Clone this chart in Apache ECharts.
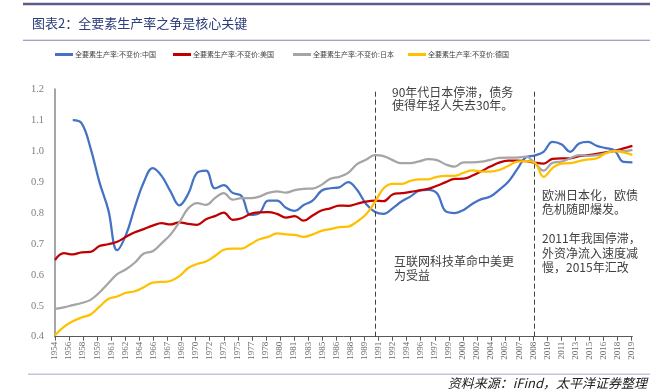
<!DOCTYPE html>
<html>
<head>
<meta charset="utf-8">
<script src="https://cdn.jsdelivr.net/npm/echarts@6/dist/echarts.min.js"></script>
<style>
html,body{margin:0;padding:0;background:#fff;}
#chart{width:650px;height:390px;}
</style>
</head>
<body>
<div id="chart"></div>
<script>
const years = [1954,1955,1956,1957,1958,1959,1960,1961,1962,1963,1964,1965,1966,1967,1968,1969,1970,1971,1972,1973,1974,1975,1976,1977,1978,1979,1980,1981,1982,1983,1984,1985,1986,1987,1988,1989,1990,1991,1992,1993,1994,1995,1996,1997,1998,1999,2000,2001,2002,2003,2004,2005,2006,2007,2008,2009,2010,2011,2012,2013,2014,2015,2016,2017,2018,2019];

const seriesNames = ['全要素生产率:不变价:中国','全要素生产率:不变价:美国','全要素生产率:不变价:日本','全要素生产率:不变价:德国'];

const china = [null,null,1.10,1.09,1.01,0.90,0.81,0.68,0.73,0.82,
  0.90,0.945,0.92,0.87,0.825,0.862,0.93,0.937,0.88,0.89,
  0.865,0.855,0.794,0.80,0.84,0.84,0.817,0.807,0.826,0.84,
  0.872,0.88,0.883,0.90,0.875,0.83,0.804,0.797,0.815,0.837,
  0.853,0.872,0.875,0.864,0.805,0.80,0.81,0.83,0.845,0.853,
  0.875,0.90,0.94,0.98,0.986,0.998,1.03,1.022,0.998,1.025,
  1.03,1.017,1.01,1.002,0.965,0.964];

const usa = [0.648,0.670,0.666,0.673,0.674,0.693,0.699,0.707,0.723,0.738,
  0.748,0.759,0.767,0.763,0.770,0.765,0.762,0.780,0.790,0.801,
  0.778,0.783,0.797,0.802,0.803,0.797,0.785,0.790,0.775,0.792,
  0.808,0.815,0.824,0.823,0.830,0.837,0.840,0.838,0.860,0.864,
  0.868,0.873,0.878,0.888,0.900,0.910,0.911,0.921,0.935,0.950,
  0.963,0.969,0.969,0.968,0.963,0.960,0.975,0.977,0.977,0.984,
  0.987,0.991,0.996,1.001,1.009,1.017];

const japan = [0.490,0.495,0.502,0.509,0.519,0.543,0.573,0.602,0.618,0.640,
  0.669,0.676,0.702,0.730,0.770,0.815,0.832,0.826,0.848,0.864,
  0.843,0.848,0.848,0.853,0.865,0.870,0.866,0.874,0.878,0.879,
  0.891,0.911,0.917,0.930,0.958,0.972,0.987,0.984,0.971,0.961,
  0.961,0.967,0.974,0.971,0.957,0.950,0.964,0.964,0.966,0.972,
  0.978,0.979,0.979,0.982,0.962,0.937,0.962,0.966,0.977,0.987,
  0.985,0.987,0.994,1.001,1.000,1.004];

const germany = [0.405,0.432,0.450,0.462,0.472,0.497,0.522,0.530,0.542,0.547,
  0.560,0.575,0.577,0.580,0.596,0.622,0.635,0.643,0.661,0.681,
  0.685,0.685,0.699,0.715,0.723,0.734,0.731,0.729,0.723,0.731,
  0.742,0.748,0.754,0.756,0.772,0.795,0.835,0.880,0.894,0.894,
  0.904,0.909,0.909,0.917,0.920,0.920,0.930,0.938,0.934,0.934,
  0.939,0.952,0.966,0.968,0.963,0.917,0.945,0.960,0.961,0.968,
  0.973,0.977,0.993,1.000,0.996,0.988];

const tickLabels = ['1954','1956','1958','1959','1961','1962','1964','1966','1967','1969','1970','1972','1973','1975','1977','1978','1980','1981','1983','1985','1986','1988','1989','1991','1992','1994','1996','1997','1999','2000','2002','2004','2005','2007','2008','2010','2011','2013','2015','2016','2018','2019'];

const dividerYears = [1990, 2008];

const yTicks = [0.4,0.5,0.6,0.7,0.8,0.9,1.0,1.1,1.2];

// axis works in months from the first year; ticks every 19 months (Excel date axis)
const tickStep = 19;
const toMonths = y => (y - years[0]) * 12;
const tickValues = tickLabels.map((_, i) => i * tickStep);

const colors = ['#4472C4', '#C00000', '#A5A5A5', '#FFC000'];
const allData = [china, usa, japan, germany];

const chart = echarts.init(document.getElementById('chart'), null, {renderer: 'canvas'});

const series = allData.map((arr, si) => ({
  name: seriesNames[si],
  type: 'line',
  data: years.map((y, i) => [toMonths(y), arr[i]]),
  showSymbol: false,
  symbol: 'none',
  smooth: 0.4,
  connectNulls: false,
  lineStyle: {width: 2.25, color: colors[si]},
  itemStyle: {color: colors[si]},
  z: 3 + si,
  markLine: si === 0 ? {
    silent: true,
    symbol: ['none', 'none'],
    label: {show: false},
    lineStyle: {color: '#404040', type: [5, 3], width: 1},
    data: dividerYears.map(y => ({xAxis: toMonths(y)}))
  } : undefined
}));

const legendLefts = [50, 168, 288, 403];
const legends = seriesNames.map((n, i) => ({
  data: [n],
  left: legendLefts[i],
  top: 46,
  itemWidth: 18,
  itemHeight: 3,
  itemGap: 0,
  icon: 'rect',
  textStyle: {fontSize: 7, color: '#404040', fontFamily: 'Noto Sans CJK SC', padding: [0,0,0,-3]},
  selectedMode: false
}));

const annFont = '12px "Noto Sans CJK SC"';
const annColor = '#404040';

const option = {
  backgroundColor: '#ffffff',
  animation: false,
  legend: legends,
  grid: {left: 55, right: 17.6, top: 89.3, bottom: 53.3, containLabel: false},
  xAxis: {
    type: 'value',
    min: 0,
    max: toMonths(years[years.length - 1]),
    axisLine: {show: true, lineStyle: {color: '#595959', width: 1}},
    axisTick: {show: true, customValues: tickValues, length: 4, lineStyle: {color: '#595959'}},
    axisLabel: {
      customValues: tickValues,
      rotate: 90,
      margin: 5,
      fontSize: 9,
      fontFamily: 'Liberation Serif',
      color: '#6a6a6a',
      formatter: v => tickLabels[Math.round(v / tickStep)] || ''
    },
    splitLine: {show: false}
  },
  yAxis: {
    type: 'value',
    min: yTicks[0],
    max: yTicks[yTicks.length - 1],
    interval: 0.1,
    axisLine: {show: true, lineStyle: {color: '#a6a6a6', width: 2}},
    axisTick: {show: false},
    splitLine: {show: false},
    axisLabel: {
      margin: 11,
      fontSize: 10.5,
      fontFamily: 'Liberation Serif',
      color: '#7f7f7f',
      formatter: v => v.toFixed(1)
    }
  },
  series: series,
  graphic: [
    {type: 'rect', shape: {x: 23, y: 2.7, width: 627, height: 2.6}, style: {fill: '#5b5b8f'}, silent: true},
    {type: 'rect', shape: {x: 23, y: 39.8, width: 627, height: 1}, style: {fill: '#8585ad'}, silent: true},
    {type: 'rect', shape: {x: 28, y: 373.5, width: 622, height: 1.5}, style: {fill: '#c4c4dc'}, silent: true},
    {type: 'text', style: {text: '图表2：全要素生产率之争是核心关键', x: 32, y: 23, textVerticalAlign: 'middle',
      font: '13px "Noto Sans CJK SC"', fill: '#2b3d7a'}, silent: true},
    {type: 'text', style: {text: '资料来源：iFind，太平洋证券整理', x: 647, y: 383, textAlign: 'right', textVerticalAlign: 'middle',
      font: 'italic 13px "Noto Sans CJK SC"', fill: '#222222'}, silent: true},
    {type: 'text', style: {text: '90年代日本停滞，债务\n使得年轻人失去30年。', x: 392, y: 85.5, lineHeight: 13,
      font: annFont, fill: annColor}, silent: true},
    {type: 'text', style: {text: '互联网科技革命中美更\n为受益', x: 394, y: 254, lineHeight: 14,
      font: annFont, fill: annColor}, silent: true},
    {type: 'text', style: {text: '欧洲日本化，欧债\n危机随即爆发。', x: 542, y: 188, lineHeight: 14,
      font: annFont, fill: annColor}, silent: true},
    {type: 'text', style: {text: '2011年我国停滞，\n外资净流入速度减\n慢，2015年汇改', x: 542, y: 231.5, lineHeight: 14.5,
      font: annFont, fill: annColor}, silent: true}
  ]
};

chart.setOption(option);
</script>
</body>
</html>
